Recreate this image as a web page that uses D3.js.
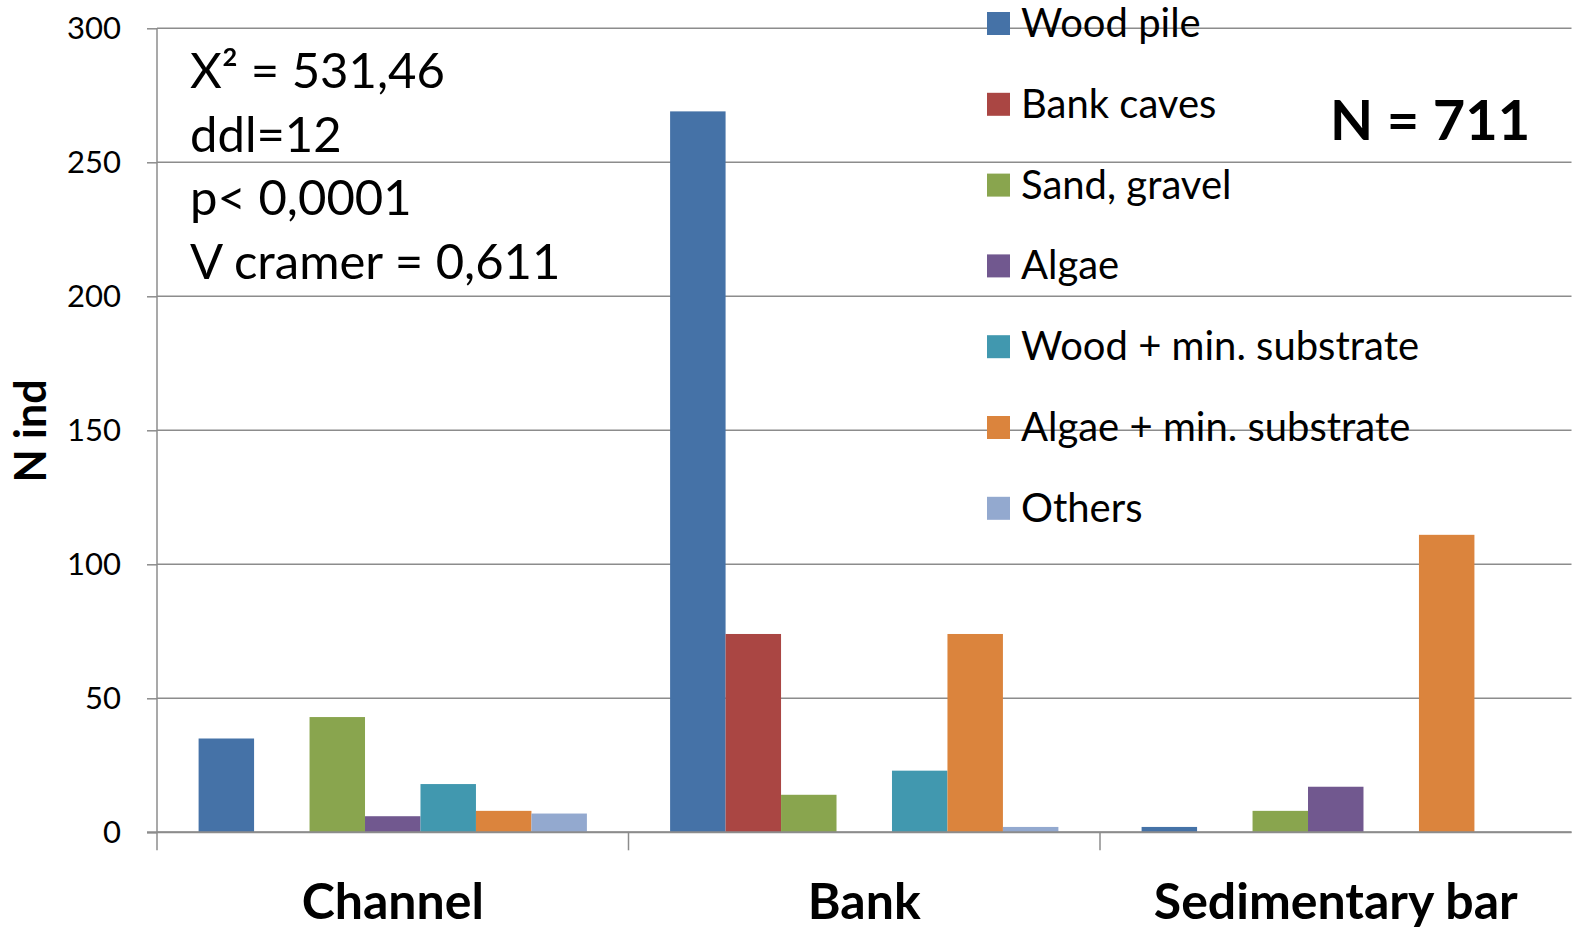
<!DOCTYPE html>
<meta charset="utf-8">
<style>
body { margin: 0; background: #fff; }
text { font-family: Lato, "Open Sans", sans-serif; fill: #000; }
</style>
<body>
<div id="box1"></div>
</body>
<script src="https://d3js.org/d3.v7.min.js"></script>
<script>

var width = 1573, height = 931;
var margin = {top: 28.3, right: 1.5, bottom: 98.7, left: 157};

var categories = ["Channel", "Bank", "Sedimentary bar"];
var series = ["Wood pile", "Bank caves", "Sand, gravel", "Algae",
              "Wood + min. substrate", "Algae + min. substrate", "Others"];

// counts per habitat, one value per series
var channelValues = [35, 0, 43, 6, 18, 8, 7];
var bankValues = [269, 74, 14, 0, 23, 74, 2];
var sedimentaryValues = [2, 0, 8, 17, 0, 111, 0];

var yTicks = [0, 50, 100, 150, 200, 250, 300];
var statLines = ["X\u00B2 = 531,46", "ddl=12", "p< 0,0001", "V cramer = 0,611"];
var totalLabel = "N = 711";

var seriesColors = ["#4572A7", "#AA4643", "#89A54E", "#71588F", "#4198AF", "#DB843D", "#93A9CF"];

var data = [
  {cat: "Channel", values: channelValues},
  {cat: "Bank", values: bankValues},
  {cat: "Sedimentary bar", values: sedimentaryValues}
];

var colors = d3.scaleOrdinal().domain(series).range(seriesColors);

var x0 = d3.scaleBand(categories, [margin.left, width - margin.right]).padding(0);
var x1 = d3.scaleBand(series, [0, x0.bandwidth()]).paddingInner(0).paddingOuter(0.75);
var yScale = d3.scaleLinear([0, 300], [height - margin.bottom, margin.top]);

var svg = d3.select("#box1").append("svg")
    .attr("width", width)
    .attr("height", height);

// grid lines
svg.append("g").selectAll("line")
  .data(yTicks)
  .join("line")
    .attr("x1", margin.left)
    .attr("x2", width - margin.right)
    .attr("y1", d => yScale(d))
    .attr("y2", d => yScale(d))
    .attr("stroke", "#8c8c8c")
    .attr("stroke-width", 1.5);

// bars
var groups = svg.append("g")
  .selectAll("g")
  .data(data)
  .join("g")
    .attr("transform", d => "translate(" + x0(d.cat) + ",0)");

groups.selectAll("rect")
  .data(d => d.values.map((v, i) => ({key: series[i], value: v})))
  .join("rect")
    .attr("x", d => x1(d.key))
    .attr("y", d => yScale(d.value))
    .attr("width", x1.bandwidth())
    .attr("height", d => yScale(0) - yScale(d.value))
    .attr("fill", d => colors(d.key));

// y axis
var yAxis = d3.axisLeft(yScale)
    .tickValues(yTicks)
    .tickSize(10)
    .tickPadding(26)
    .tickFormat(d3.format("d"));

var yG = svg.append("g")
    .attr("transform", "translate(" + margin.left + ",0)")
    .call(yAxis);
yG.select(".domain").remove();
yG.selectAll(".tick line").attr("stroke", "#8c8c8c").attr("stroke-width", 1.5);
yG.selectAll(".tick text")
    .style("font-family", "Lato")
    .style("font-size", "31px")
    .attr("fill", "#000");

// vertical axis line, running past zero like the category ticks
svg.append("line")
    .attr("x1", margin.left).attr("x2", margin.left)
    .attr("y1", yScale(300)).attr("y2", yScale(0) + 18)
    .attr("stroke", "#8c8c8c").attr("stroke-width", 1.5);

// x axis line and ticks between categories
svg.append("line")
    .attr("x1", margin.left - 10).attr("x2", width - margin.right)
    .attr("y1", yScale(0)).attr("y2", yScale(0))
    .attr("stroke", "#8c8c8c").attr("stroke-width", 2);

svg.append("g").selectAll("line")
  .data(categories.slice(1))
  .join("line")
    .attr("x1", d => x0(d)).attr("x2", d => x0(d))
    .attr("y1", yScale(0)).attr("y2", yScale(0) + 18)
    .attr("stroke", "#8c8c8c").attr("stroke-width", 1.5);

svg.append("g").selectAll("text")
  .data(categories)
  .join("text")
    .attr("x", d => x0(d) + x0.bandwidth() / 2)
    .attr("y", 919)
    .attr("text-anchor", "middle")
    .style("font-size", "50px")
    .style("font-weight", "bold")
    .text(d => d);

// y title
svg.append("text")
    .attr("transform", "translate(46,431) rotate(-90)")
    .attr("text-anchor", "middle")
    .style("font-size", "43px")
    .style("font-weight", "bold")
    .text("N ind");

// stats block
svg.append("g").selectAll("text")
  .data(statLines)
  .join("text")
    .attr("x", 190)
    .attr("y", (d, i) => 88 + i * 63.5)
    .style("font-size", "49px")
    .text(d => d);

svg.append("text")
    .attr("x", 1330)
    .attr("y", 140)
    .style("font-size", "56px")
    .style("font-weight", "bold")
    .text(totalLabel);

// legend
var legend = svg.append("g").selectAll("g")
  .data(series)
  .join("g")
    .attr("transform", (d, i) => "translate(987," + (24 + i * 80.8) + ")");

legend.append("rect")
    .attr("x", 0).attr("y", -12)
    .attr("width", 23).attr("height", 23)
    .attr("fill", d => colors(d));

legend.append("text")
    .attr("x", 34)
    .attr("y", 13)
    .style("font-size", "40px")
    .text(d => d);

</script>
